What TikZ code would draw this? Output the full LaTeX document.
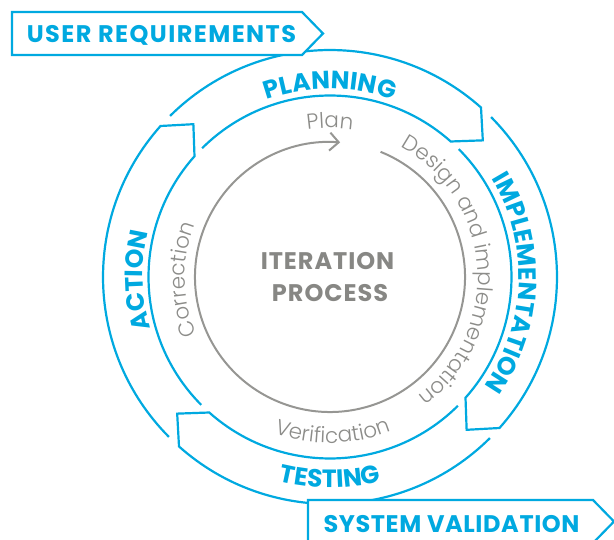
\documentclass[tikz,border=0pt]{standalone}
\usepackage{fontspec}
\setmainfont{Poppins}
\newfontfamily\tagfont{Poppins}[LetterSpace=6]
\newfontfamily\valfont{Poppins}[LetterSpace=2.5]
\newfontfamily\midfont{Poppins}[LetterSpace=4]
\IfFontExistsTF{Poppins Light}{\newfontfamily\thinfont{Poppins Light}}{\newfontfamily\thinfont{Poppins}}
\usepackage{tikz}
\usetikzlibrary{arrows.meta,decorations.text}
\definecolor{cycleblue}{RGB}{0,169,224}
\definecolor{cyclegray}{RGB}{150,150,147}
\definecolor{stepgray}{RGB}{140,140,137}
\newcommand{\bandfont}{\color{cycleblue}\fontsize{25}{25}\selectfont\bfseries}
\newcommand{\stepfont}{\color{stepgray}\fontsize{21.5}{21.5}\selectfont\thinfont}

\begin{document}
\begin{tikzpicture}[x=1pt,y=1pt,
  band/.style={draw=cycleblue,line width=2.2pt,line join=miter},
  tag/.style={draw=cycleblue,fill=white,line width=2.2pt,line join=miter},
  taglabel/.style={anchor=base,text=cycleblue,font=\fontsize{24}{24}\tagfont\bfseries},
  centrelabel/.style={anchor=base,text=cyclegray!90!black,font=\fontsize{24}{24}\midfont\bfseries},
  loopline/.style={draw=cyclegray,line width=2pt,-{Straight Barb[length=9pt,width=18pt]}},
  arclabel/.style={decorate,decoration={text along path,text align=center,text={#1}}}]
\useasboundingbox (0,0) rectangle (614,539);

\begin{scope}[shift={(330,262)}]
% the four band arrows, clockwise
\foreach \hd/\tl in {48.3/134.8, -41.7/44.8, -131.7/-45.2, -221.7/-135.2}{
  \pgfmathsetmacro\tp{\hd-6.5}
  \draw[band] (\tl:227) arc[start angle=\tl,end angle=\hd,radius=227]
    -- (\tp:205) -- (\hd:181.5) arc[start angle=\hd,end angle=\tl,radius=181.5];
}
% inner loop
\draw[loopline] (68:135) arc[start angle=68,end angle=-274.3,radius=135];

% band names
\path[arclabel={|\bandfont|PLANNING}] (150:188) arc[start angle=150,end angle=30,radius=188];
\path[arclabel={|\bandfont|IMPLEMENTATION}] (58:189) arc[start angle=58,end angle=-62,radius=189];
\path[arclabel={|\bandfont|TESTING}] (-150:211) arc[start angle=-150,end angle=-30,radius=211];
\path[arclabel={|\bandfont|ACTION}] (241:187) arc[start angle=241,end angle=121,radius=187];

% step names
\path[arclabel={|\stepfont|Plan}] (150:149) arc[start angle=150,end angle=30,radius=149];
\path[arclabel={|\stepfont|Design and implementation}] (94:148) arc[start angle=94,end angle=-86,radius=148];
\path[arclabel={|\stepfont|Verification}] (-179:166) arc[start angle=-179,end angle=1,radius=166];
\path[arclabel={|\stepfont|Correction}] (271:145) arc[start angle=271,end angle=91,radius=145];
\end{scope}

\node[centrelabel] (iter) at (327.5,269) {ITERATION};
\node[centrelabel] (proc) at (330,237) {PROCESS};

% input and output tags
\draw[tag] (12,527) -- (302,527) -- (323,505.5) -- (302,484) -- (12,484) -- cycle;
\node[taglabel] (userreq) at (161.5,496) {USER REQUIREMENTS};
\draw[tag] (308,39) -- (593,39) -- (614,17.5) -- (593,-4) -- (308,-4) -- cycle;
\node[taglabel,font=\fontsize{24}{24}\valfont\bfseries] (sysval) at (451.5,7) {SYSTEM VALIDATION};
\end{tikzpicture}
\end{document}
